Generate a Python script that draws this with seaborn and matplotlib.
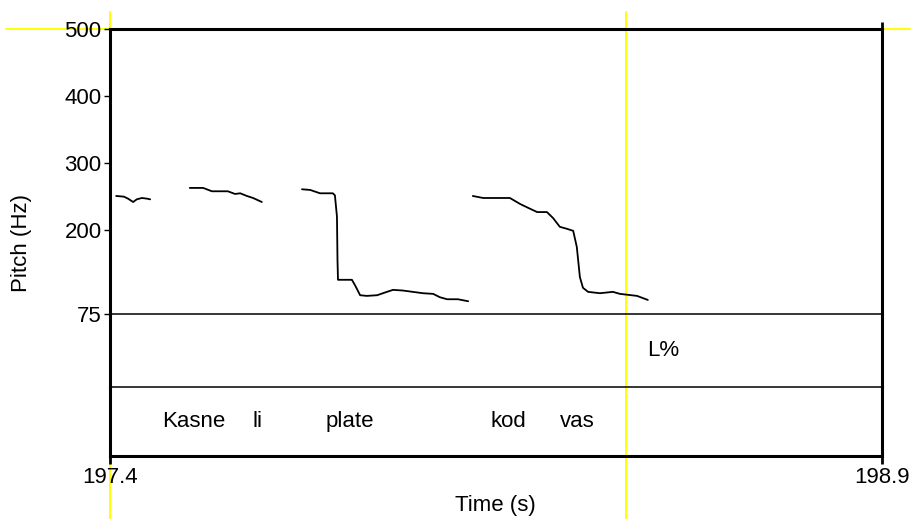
import numpy as np
import pandas as pd
import matplotlib.pyplot as plt
import seaborn as sns
from matplotlib.lines import Line2D
from matplotlib.transforms import blended_transform_factory

sns.set_theme(style="white")
plt.rcParams['font.family'] = ['Liberation Sans', 'DejaVu Sans']
plt.rcParams.update({'text.color': 'black', 'xtick.color': 'black',
                     'ytick.color': 'black', 'axes.labelcolor': 'black'})

# Pitch contour, one list per voiced stretch (time in s, pitch in Hz)
seg1_t = [197.412, 197.427, 197.435, 197.445, 197.452, 197.462, 197.472, 197.478]
seg1_f = [251, 250, 247, 242, 246, 248, 247, 246]
seg2_t = [197.555, 197.581, 197.598, 197.629, 197.643, 197.653, 197.666, 197.678, 197.695]
seg2_f = [263, 263, 258, 258, 254, 255, 251, 248, 242]
seg3_t = [197.773, 197.789, 197.808, 197.833, 197.837, 197.841, 197.842, 197.843, 197.870,
          197.876, 197.886, 197.899, 197.919, 197.938, 197.950, 197.969, 198.008, 198.028,
          198.041, 198.055, 198.076, 198.096]
seg3_f = [261, 260, 255, 255, 252, 220, 156, 126, 126, 118, 103, 102, 103, 108, 111, 110,
          106, 105, 100, 97, 97, 94]
seg4_t = [198.105, 198.125, 198.177, 198.197, 198.216, 198.230, 198.249, 198.261, 198.274,
          198.288, 198.300, 198.307, 198.313, 198.319, 198.329, 198.352, 198.377, 198.391,
          198.424, 198.445]
seg4_f = [251, 248, 248, 239, 232, 227, 227, 218, 205, 202, 199, 175, 130, 114, 108, 106,
          108, 105, 102, 96]

# Tiers
tone_labels = ['L%']
tone_times = [198.475]
word_labels = ['Kasne', 'li', 'plate', 'kod', 'vas']
word_times = [197.563, 197.686, 197.866, 198.175, 198.307]

pitch_ticks = [75, 200, 300, 400, 500]
time_range = [197.4, 198.9]
cursor_time = 198.403

segs = [(seg1_t, seg1_f), (seg2_t, seg2_f), (seg3_t, seg3_f), (seg4_t, seg4_f)]
df = pd.concat([pd.DataFrame({'time': t, 'pitch': f, 'seg': i}) for i, (t, f) in enumerate(segs)])

W, H = 912, 519
fig = plt.figure(figsize=(W / 100, H / 100), dpi=100)

def box(top, bottom):
    return [110 / W, (H - bottom) / H, 772 / W, (bottom - top) / H]

ax = fig.add_axes(box(29, 314))
ax1 = fig.add_axes(box(314, 387))
ax2 = fig.add_axes(box(387, 456))
for a in (ax, ax1, ax2):
    a.set_facecolor('none')
    a.set_xlim(time_range)
    for s in a.spines.values():
        s.set_color('black')

sns.lineplot(data=df, x='time', y='pitch', units='seg', estimator=None, color='black',
             linewidth=1.3, ax=ax, legend=False)
ax.set_ylim(75, 500)
ax.set_yticks(pitch_ticks)
ax.set_yticklabels([str(p) for p in pitch_ticks])
ax.set_xticks([time_range[1]])
ax.xaxis.set_ticks_position('top')
ax.tick_params(axis='x', direction='out', length=5, width=2, labeltop=False, labelbottom=False)
ax.tick_params(axis='y', direction='out', length=4, width=1, pad=2, labelsize=16, left=True)
ax.set_xlabel('')
ax.set_ylabel('')
for k in ('top', 'left', 'right'):
    ax.spines[k].set_linewidth(2.2)
ax.spines['bottom'].set_linewidth(1.1)

ax1.set_ylim(0, 1)
ax1.set_xticks([])
ax1.set_yticks([])
ax1.spines['top'].set_visible(False)
ax1.spines['bottom'].set_linewidth(1.1)
for k in ('left', 'right'):
    ax1.spines[k].set_linewidth(2.2)
for lab, t in zip(tone_labels, tone_times):
    ax1.text(t, 0.5, lab, ha='center', va='center', fontsize=16, color='black')

ax2.set_ylim(0, 1)
ax2.set_yticks([])
ax2.set_xticks(time_range)
ax2.set_xticklabels([f'{v:.1f}' for v in time_range])
ax2.tick_params(axis='x', direction='out', length=6, width=2, pad=2, labelsize=16, bottom=True)
ax2.spines['top'].set_visible(False)
for k in ('left', 'right', 'bottom'):
    ax2.spines[k].set_linewidth(2.2)
for lab, t in zip(word_labels, word_times):
    ax2.text(t, 0.5, lab, ha='center', va='center', fontsize=16, color='black')

# Yellow cursors (drawn beneath the frame)
trans_v = blended_transform_factory(ax.transData, fig.transFigure)
for t in (time_range[0], cursor_time):
    fig.add_artist(Line2D([t, t], [0, (H - 12) / H], transform=trans_v, color='#ffff00',
                          linewidth=1.4, zorder=-1))
trans_h = blended_transform_factory(fig.transFigure, ax.transData)
fig.add_artist(Line2D([6 / W, 910 / W], [500, 500], transform=trans_h, color='#ffff00',
                      linewidth=1.4, zorder=-1))

fig.text(22 / W, (H - 243) / H, 'Pitch (Hz)', rotation=90, ha='center', va='center', fontsize=16)
fig.text(495 / W, (H - 505) / H, 'Time (s)', ha='center', va='center', fontsize=16)

fig.savefig('out.png', dpi=100, facecolor='white')
